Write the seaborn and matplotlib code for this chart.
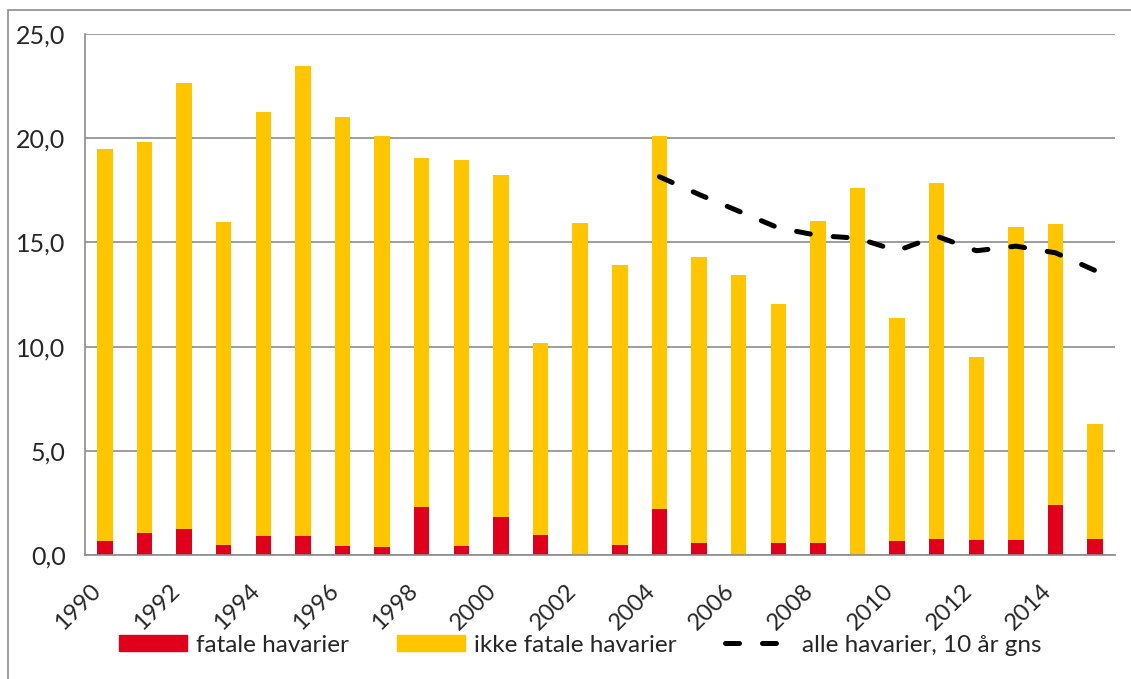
"""
Havarier per år: fatale og ikke fatale, med 10 års glidende gjennomsnitt.
"""

import matplotlib
matplotlib.use('Agg')
import matplotlib.pyplot as plt
from matplotlib.patches import Rectangle
from matplotlib.lines import Line2D
import pandas as pd
import seaborn as sns

years = list(range(1990, 2016))
alle = [19.5, 19.8, 22.65, 16.0, 21.25, 23.45, 21.0, 20.1, 19.05, 18.95,
        18.25, 10.15, 15.95, 13.9, 20.1, 14.3, 13.45, 12.05, 16.05, 17.6,
        11.35, 17.85, 9.5, 15.75, 15.9, 6.3]
fatale = [0.65, 1.07, 1.27, 0.47, 0.92, 0.92, 0.42, 0.4, 2.28, 0.42,
          1.8, 0.97, 0.0, 0.47, 2.2, 0.58, 0.0, 0.58, 0.58, 0.0,
          0.68, 0.76, 0.7, 0.74, 2.4, 0.78]
snitt_years = list(range(2004, 2016))
snitt = [18.15, 17.3, 16.5, 15.7, 15.33, 15.2, 14.6, 15.3, 14.6, 14.82, 14.5, 13.65]

RED = '#E0001B'
YELLOW = '#FFC600'
GRID = '#8C8C8C'
DASH = (0, (2.8, 4.6))

sns.set_style('white')
plt.rcParams['font.family'] = ['Lato', 'DejaVu Sans']

df = pd.DataFrame({'aar': [str(y) for y in years], 'alle': alle, 'fatale': fatale})
df_line = pd.DataFrame({'x': [y - years[0] for y in snitt_years], 'snitt': snitt})

fig = plt.figure(figsize=(11.31, 6.79), dpi=100)
ax = fig.add_axes([85 / 1131, 1 - 555 / 679, 1030 / 1131, (555 - 34) / 679])

sns.barplot(data=df, x='aar', y='alle', color=YELLOW, width=0.39, ax=ax,
            saturation=1, linewidth=0)
sns.barplot(data=df, x='aar', y='fatale', color=RED, width=0.39, ax=ax,
            saturation=1, linewidth=0)
sns.lineplot(data=df_line, x='x', y='snitt', ax=ax, color='black', lw=3.6,
             linestyle=DASH, dash_capstyle='round')

ax.set_ylim(0, 25)
ax.set_xlim(-0.5, len(years) - 0.5)
ax.set_yticks([0, 5, 10, 15, 20, 25])
ax.set_yticklabels([f'{v:.1f}'.replace('.', ',') for v in [0, 5, 10, 15, 20, 25]],
                   fontsize=18)
ax.set_xticks(range(0, len(years), 2))
ax.set_xticklabels([str(y) for y in years[::2]], rotation=45, ha='right',
                   va='top', fontsize=17)
ax.tick_params(axis='x', length=0, pad=18)
ax.tick_params(axis='y', length=8, color=GRID, width=1.2, pad=6, direction='out')
# tick-streker mellom kategoriene
ax.set_xticks([i - 0.5 for i in range(len(years) + 1)], minor=True)
ax.tick_params(axis='x', which='minor', length=6, color=GRID, width=1.2, direction='out')

ax.grid(axis='y', color=GRID, lw=1.2)
ax.set_axisbelow(True)
for s in ['top', 'right']:
    ax.spines[s].set_visible(False)
for s in ['left', 'bottom']:
    ax.spines[s].set_color(GRID)
    ax.spines[s].set_linewidth(1.2)
ax.set_xlabel('')
ax.set_ylabel('')

handles = [Rectangle((0, 0), 1, 1, color=RED),
           Rectangle((0, 0), 1, 1, color=YELLOW),
           Line2D([], [], color='black', lw=3.6, linestyle=DASH,
                  dash_capstyle='round')]
labels = ['fatale havarier', 'ikke fatale havarier', 'alle havarier, 10 år gns']
fig.legend(handles, labels, loc='center', bbox_to_anchor=(0.513, 0.05), ncol=3,
           frameon=False, fontsize=17.5, handlelength=2.8, handleheight=0.6,
           handletextpad=0.35, columnspacing=2.0)

# diagramramme (høyre og nedre kant ligger utenfor bildet)
fig.patches.append(Rectangle((8 / 1131, -0.1), 1.2, 1.1 - 10 / 679,
                             transform=fig.transFigure, fill=False,
                             edgecolor=GRID, lw=1.2))

fig.savefig('out.png', dpi=100)
